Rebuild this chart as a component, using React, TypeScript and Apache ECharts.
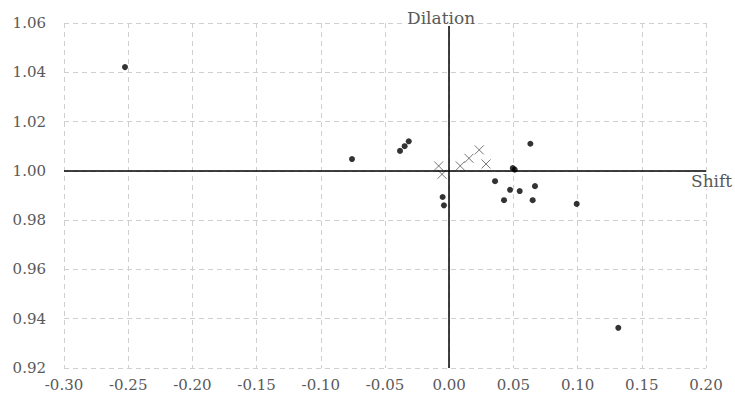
import React, { useEffect, useRef } from "react";
import * as echarts from "echarts";

const dotsX = [-0.2525, -0.0757, -0.0383, -0.0347, -0.0315, -0.0051, -0.0041, 0.0357, 0.0474, 0.0427, 0.0549, 0.0495, 0.051, 0.0632, 0.0668, 0.065, 0.0993, 0.1317];
const dotsY = [1.0421, 1.0048, 1.0081, 1.01, 1.012, 0.9894, 0.986, 0.9958, 0.9923, 0.9881, 0.9918, 1.0011, 1.0005, 1.011, 0.9938, 0.9881, 0.9866, 0.9363];
const crossX = [-0.0082, -0.0056, 0.0086, 0.0154, 0.0234, 0.0287];
const crossY = [1.002, 0.9986, 1.002, 1.0051, 1.0085, 1.0028];

const xTicks = { min: -0.3, max: 0.2, interval: 0.05 };
const yTicks = { min: 0.92, max: 1.06, interval: 0.02 };
const xName = "Shift";
const yName = "Dilation";

export default function App() {
  const ref = useRef<HTMLDivElement>(null);
  useEffect(() => {
    if (!ref.current) return;
    const chart = echarts.init(ref.current, null, { renderer: "svg" });
    const labelStyle = { color: "#595959", fontFamily: "DejaVu Serif", fontSize: 15 };
    const split = { show: true, lineStyle: { color: "#cfcfcf", type: [5, 4] as any, width: 1 } };
    chart.setOption({
      animation: false,
      backgroundColor: "#ffffff",
      grid: { left: 64, right: 29, top: 23, bottom: 35, containLabel: false },
      xAxis: {
        type: "value",
        min: xTicks.min,
        max: xTicks.max,
        interval: xTicks.interval,
        axisLine: { show: false },
        axisTick: { show: false },
        splitLine: split,
        axisLabel: { ...labelStyle, margin: 9, formatter: (v: number) => v.toFixed(2) },
      },
      yAxis: {
        type: "value",
        min: yTicks.min,
        max: yTicks.max,
        interval: yTicks.interval,
        axisLine: { show: false },
        axisTick: { show: false },
        splitLine: split,
        axisLabel: { ...labelStyle, margin: 18, formatter: (v: number) => v.toFixed(2) },
      },
      series: [
        {
          type: "scatter",
          data: dotsX.map((x, i) => [x, dotsY[i]]),
          symbol: "circle",
          symbolSize: 6,
          itemStyle: { color: "#000000" },
          z: 3,
          markLine: {
            silent: true,
            symbol: "none",
            label: { show: false },
            lineStyle: { color: "#000000", type: "solid", width: 1.5 },
            data: [{ xAxis: 0 }, { yAxis: 1.0 }],
          },
        },
        {
          type: "scatter",
          data: crossX.map((x, i) => [x, crossY[i]]),
          symbol: "path://M0,0L10,10M10,0L0,10",
          symbolSize: 9,
          itemStyle: { color: "none", borderColor: "#555555", borderWidth: 1 },
          z: 4,
        },
      ],
      graphic: [
        {
          type: "text",
          left: 406,
          top: 9,
          z: 100,
          style: {
            text: yName,
            fill: "#595959",
            font: "17px 'DejaVu Serif'",
            backgroundColor: "#ffffff",
            padding: [0, 1],
          },
        },
        {
          type: "text",
          left: 690,
          top: 172,
          z: 100,
          style: {
            text: xName,
            fill: "#595959",
            font: "17px 'DejaVu Serif'",
            backgroundColor: "#ffffff",
            padding: [0, 1],
          },
        },
      ],
    });
    return () => chart.dispose();
  }, []);
  return <div ref={ref} style={{ position: "fixed", left: 0, top: 0, width: 735, height: 403 }} />;
}
